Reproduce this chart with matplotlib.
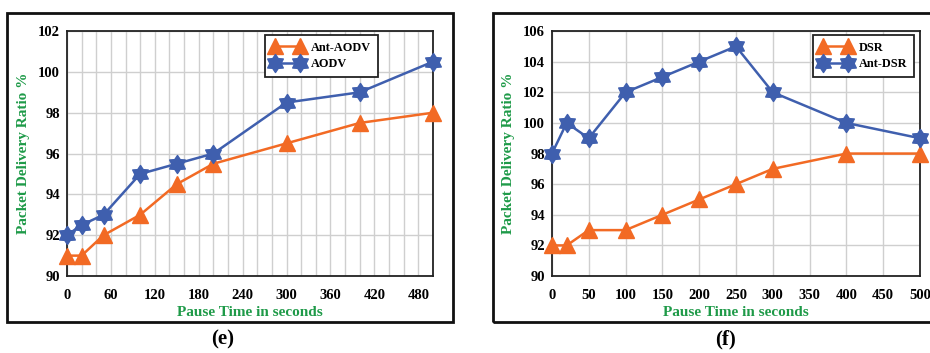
import numpy as np
import matplotlib.pyplot as plt
from matplotlib.patches import Rectangle
from matplotlib.path import Path

plt.rcParams['font.family'] = 'Liberation Serif'
plt.rcParams['font.weight'] = 'bold'
plt.rcParams['axes.labelweight'] = 'bold'

# (e) AODV vs Ant-AODV
pause_e = [0, 20, 50, 100, 150, 200, 300, 400, 500]
ant_aodv = [91, 91, 92, 93, 94.5, 95.5, 96.5, 97.5, 98]
aodv = [92, 92.5, 93, 95, 95.5, 96, 98.5, 99, 100.5]
xticks_e = [0, 60, 120, 180, 240, 300, 360, 420, 480]
yticks_e = [90, 92, 94, 96, 98, 100, 102]

# (f) DSR vs Ant-DSR
pause_f = [0, 20, 50, 100, 150, 200, 250, 300, 400, 500]
dsr = [92, 92, 93, 93, 94, 95, 96, 97, 98, 98]
ant_dsr = [98, 100, 99, 102, 103, 104, 105, 102, 100, 99]
xticks_f = [0, 50, 100, 150, 200, 250, 300, 350, 400, 450, 500]
yticks_f = [90, 92, 94, 96, 98, 100, 102, 104, 106]

ORANGE = '#f26a24'
BLUE = '#3f5fae'
GREEN = '#1e9a48'

# fat six-pointed star
ang = np.pi / 2 + np.arange(12) * np.pi / 6
rad = np.where(np.arange(12) % 2 == 0, 1.0, 0.62)
verts = np.column_stack([rad * np.cos(ang), rad * np.sin(ang)])
verts = np.vstack([verts, verts[:1]])
star = Path(verts, closed=True)

fig = plt.figure(figsize=(9.3, 3.53), dpi=100)
ax1 = fig.add_axes([0.072, 0.218, 0.3935, 0.694])
ax2 = fig.add_axes([0.5935, 0.218, 0.3957, 0.694])


def style(ax, xticks, yticks, xgrid, ylim):
    ax.set_xlim(0, 500)
    ax.set_ylim(*ylim)
    ax.set_xticks(xticks)
    ax.set_yticks(yticks)
    ax.set_xticks(xgrid, minor=True)
    ax.grid(True, which='both', axis='x', color='#cfcfcf', lw=1.0)
    ax.grid(True, which='major', axis='y', color='#cfcfcf', lw=1.0)
    ax.set_axisbelow(True)
    ax.tick_params(which='both', length=0, labelsize=10.5)
    ax.tick_params(axis='x', pad=9)
    ax.tick_params(axis='y', pad=5)
    for s in ax.spines.values():
        s.set_color('#222222')
        s.set_linewidth(1.3)
    ax.set_xlabel('Pause Time in seconds', color=GREEN, fontsize=11, labelpad=3)
    ax.set_ylabel('Packet Delivery Ratio %', color=GREEN, fontsize=11, labelpad=6)


def legend(ax, x0):
    leg = ax.legend(loc='upper left', bbox_to_anchor=(x0, 0.984), borderaxespad=0, numpoints=2,
                    fontsize=8.8, fancybox=False, framealpha=1, edgecolor='#222222',
                    handlelength=2.6, handletextpad=0.6, borderpad=0.55, labelspacing=0.35)
    leg.get_frame().set_linewidth(1.3)


style(ax1, xticks_e, yticks_e, np.arange(0, 501, 20), (90, 102))
ax1.plot(pause_e, ant_aodv, color=ORANGE, lw=1.8, marker='^', ms=11, clip_on=False, zorder=3, label='Ant-AODV')
ax1.plot(pause_e, aodv, color=BLUE, lw=1.8, marker=star, ms=13, clip_on=False, zorder=4, label='AODV')
legend(ax1, 0.541)

style(ax2, xticks_f, yticks_f, xticks_f, (90, 106))
ax2.plot(pause_f, dsr, color=ORANGE, lw=1.8, marker='^', ms=11, clip_on=False, zorder=3, label='DSR')
ax2.plot(pause_f, ant_dsr, color=BLUE, lw=1.8, marker=star, ms=13, clip_on=False, zorder=4, label='Ant-DSR')
legend(ax2, 0.709)

# outer panel frames
for x0, x1 in [(7, 453), (493, 936)]:
    fig.patches.append(Rectangle((x0 / 930, 1 - 322 / 353), (x1 - x0) / 930, (322 - 13) / 353,
                                 transform=fig.transFigure, fill=False, ec='#111111', lw=2))

fig.text(223 / 930, 1 - 339 / 353, '(e)', ha='center', va='center', fontsize=15)
fig.text(725 / 930, 1 - 339 / 353, '(f)', ha='center', va='center', fontsize=15)

fig.savefig('out.png', dpi=100)
